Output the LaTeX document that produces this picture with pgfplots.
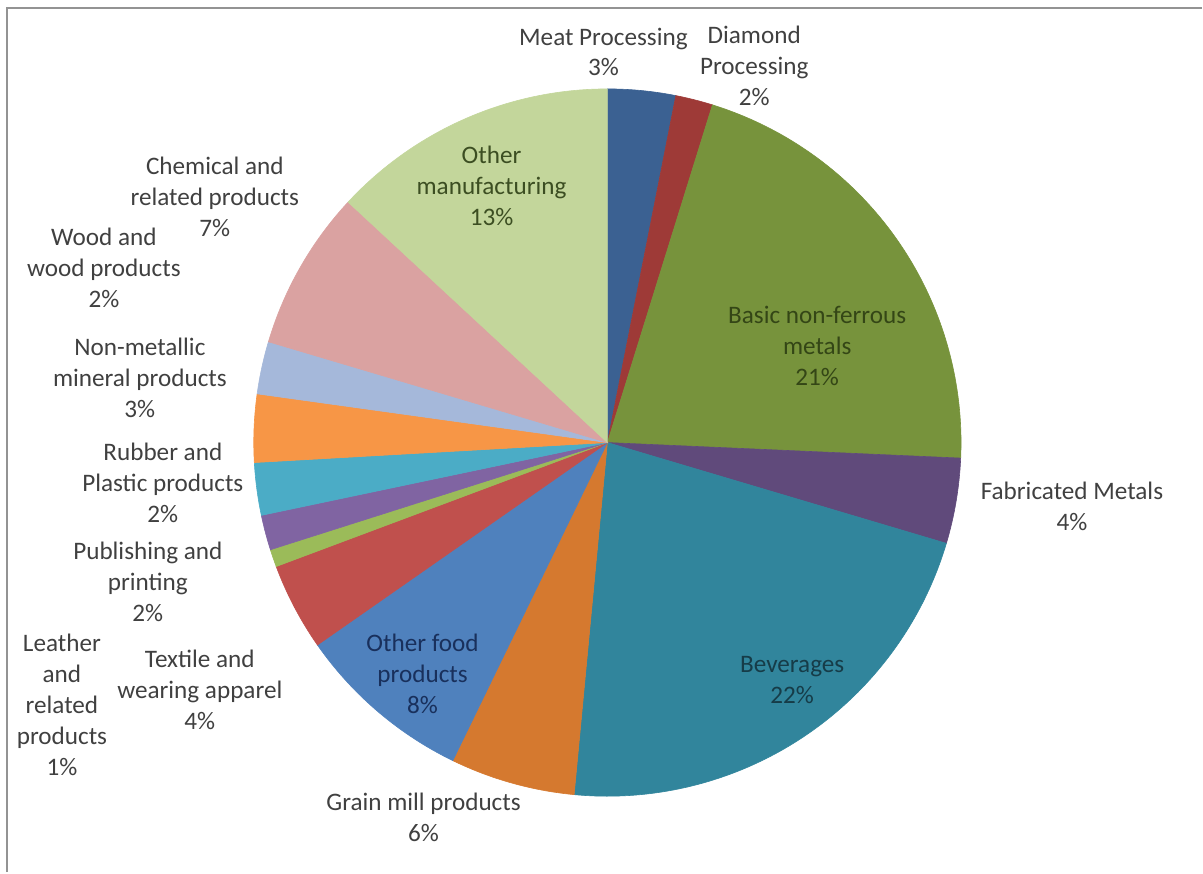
\documentclass[border=0pt]{standalone}
\usepackage{fontspec}
\setmainfont{Carlito}
\usepackage{pgfplots}
\pgfplotsset{compat=1.18}
\definecolor{cMeat}{HTML}{3B6192}
\definecolor{cDiam}{HTML}{9E3A37}
\definecolor{cBasic}{HTML}{77933C}
\definecolor{cFab}{HTML}{604A7B}
\definecolor{cBev}{HTML}{31859C}
\definecolor{cGrain}{HTML}{D5792F}
\definecolor{cFood}{HTML}{4F81BD}
\definecolor{cText}{HTML}{C0504D}
\definecolor{cLeat}{HTML}{9BBB59}
\definecolor{cPub}{HTML}{8064A2}
\definecolor{cRub}{HTML}{4BACC6}
\definecolor{cMin}{HTML}{F79646}
\definecolor{cWood}{HTML}{A5B8DA}
\definecolor{cChem}{HTML}{DAA2A1}
\definecolor{cOther}{HTML}{C3D69B}
\definecolor{labc}{HTML}{404040}
\tikzset{lbl/.style={font=\fontsize{12.6}{15.5}\selectfont, align=center, text=labc, inner sep=1pt}}
% slice: colour, start share (%), end share (%), clockwise from 12 o'clock
\newcommand{\slice}[3]{%
  \addplot[fill=#1, draw=#1, line width=0.3pt, domain={3.6*#2}:{3.6*#3}, samples=90, variable=\t]
    ({608+354*sin(\t)}, {430+354*cos(\t)}) -- (axis cs:608,430) -- cycle;}
\begin{document}
\begin{tikzpicture}
\begin{axis}[
  scale only axis, width=601.5pt, height=436.5pt,
  xmin=0, xmax=1203, ymin=0, ymax=873,
  hide axis, clip=false,
]
\path (axis cs:0,0) rectangle (axis cs:1203,873);
% shares: 3.1 1.7 20.9 3.9 21.9 5.7 8.1 4.0 0.8 1.6 2.4 3.1 2.4 7.3 13.0
\slice{cMeat}{0}{3.1}
\slice{cDiam}{3.1}{4.8}
\slice{cBasic}{4.8}{25.7}
\slice{cFab}{25.7}{29.6}
\slice{cBev}{29.6}{51.5}
\slice{cGrain}{51.5}{57.2}
\slice{cFood}{57.2}{65.3}
\slice{cText}{65.3}{69.3}
\slice{cLeat}{69.3}{70.1}
\slice{cPub}{70.1}{71.7}
\slice{cRub}{71.7}{74.1}
\slice{cMin}{74.1}{77.2}
\slice{cWood}{77.2}{79.6}
\slice{cChem}{79.6}{86.9}
\slice{cOther}{86.9}{100}
\draw[color=gray!85, line width=1.2pt] (axis cs:7,0) -- (axis cs:7,865) -- (axis cs:1203,865);
\node[lbl] at (axis cs:604,821) {Meat Processing\\3\%};
\node[lbl] at (axis cs:755,807) {Diamond\\Processing\\2\%};
\node[lbl, text={rgb,255:red,52;green,70;blue,22}] at (axis cs:818,527) {Basic non-ferrous\\metals\\21\%};
\node[lbl] at (axis cs:1073,366) {Fabricated Metals\\4\%};
\node[lbl, text={rgb,255:red,22;green,60;blue,72}] at (axis cs:793,192) {Beverages\\22\%};
\node[lbl] at (axis cs:424,55) {Grain mill products\\6\%};
\node[lbl, text={rgb,255:red,25;green,48;blue,92}] at (axis cs:423,198) {Other food\\products\\8\%};
\node[lbl] at (axis cs:200,182) {Textile and\\wearing apparel\\4\%};
\node[lbl] at (axis cs:62,167) {Leather\\and\\related\\products\\1\%};
\node[lbl] at (axis cs:148,291) {Publishing and\\printing\\2\%};
\node[lbl] at (axis cs:163,390) {Rubber and\\Plastic products\\2\%};
\node[lbl] at (axis cs:140,495) {Non-metallic\\mineral products\\3\%};
\node[lbl] at (axis cs:104,605) {Wood and\\wood products\\2\%};
\node[lbl] at (axis cs:215,676) {Chemical and\\related products\\7\%};
\node[lbl, text={rgb,255:red,60;green,78;blue,34}] at (axis cs:492,687) {Other\\manufacturing\\13\%};
\end{axis}
\end{tikzpicture}
\end{document}
